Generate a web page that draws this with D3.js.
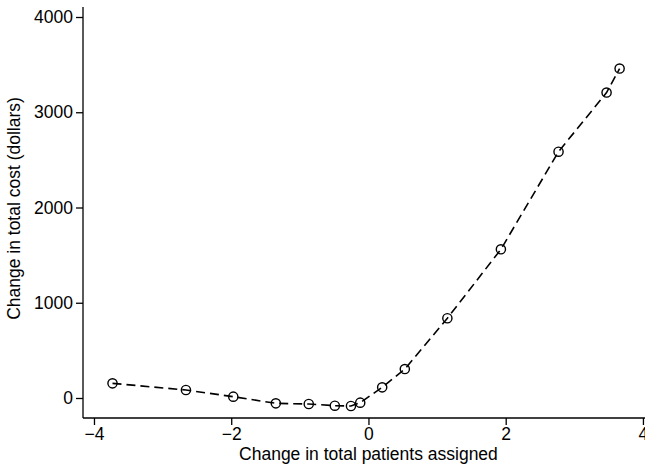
<!DOCTYPE html>
<html>
<head>
<meta charset="utf-8">
<script src="https://cdn.jsdelivr.net/npm/d3@7"></script>
<style>
  body { margin: 0; background: #fff; }
  svg { font-family: "Liberation Sans", Arial, sans-serif; }
</style>
</head>
<body>
<script>
// chart data
var patients = [-3.73, -2.66, -1.97, -1.35, -0.87, -0.49, -0.255, -0.12, 0.20, 0.53, 1.15, 1.93, 2.77, 3.47, 3.66];
var cost = [154, 84, 14, -56, -63, -81, -84, -49, 112, 304, 837, 1561, 2586, 3207, 3459];
var xTicks = [-4, -2, 0, 2, 4];
var yTicks = [0, 1000, 2000, 3000, 4000];
var xTitle = "Change in total patients assigned";
var yTitle = "Change in total cost (dollars)";

var W = 645, H = 465;
var margin = { top: 7, right: 0, bottom: 47, left: 83 };
var width = W - margin.left - margin.right;
var height = H - margin.top - margin.bottom;

var svg = d3.select("body").append("svg")
	.attr("width", W)
	.attr("height", H)
	.append("g")
		.attr("transform", "translate(" + margin.left + "," + margin.top + ")");

var x = d3.scaleLinear().domain([-4.16, 4.03]).range([0, width]);
var y = d3.scaleLinear().domain([-210, 4105]).range([height, 0]);

var xAxis = svg.append("g")
	.attr("transform", "translate(0," + height + ")")
	.call(d3.axisBottom(x).tickValues(xTicks).tickSize(7).tickPadding(3)
		.tickFormat(function(d) { return d < 0 ? "\u2212" + Math.abs(d) : d; }));
var yAxis = svg.append("g")
	.call(d3.axisLeft(y).tickValues(yTicks).tickSize(7).tickPadding(3)
		.tickFormat(d3.format("d")));

[xAxis, yAxis].forEach(function(a) {
	a.select(".domain").attr("stroke", "#000").attr("stroke-width", 1.3);
	a.selectAll(".tick line").attr("stroke", "#000").attr("stroke-width", 1.3);
	a.selectAll("text").attr("font-size", 17.5).attr("fill", "#000")
		.attr("font-family", "Liberation Sans, Arial, sans-serif");
});
// plain axis lines, no outer ticks
xAxis.select(".domain").attr("d", "M0,0H" + width);
yAxis.select(".domain").attr("d", "M0,0V" + height);

svg.append("text")
	.attr("x", x(0))
	.attr("y", height + 42)
	.attr("text-anchor", "middle")
	.attr("font-size", 17.5)
	.text(xTitle);

svg.append("text")
	.attr("transform", "translate(" + (-63) + "," + (y(2000) + 1) + ") rotate(-90)")
	.attr("text-anchor", "middle")
	.attr("font-size", 17.5)
	.text(yTitle);

var data = patients.map(function(d, i) { return { x: d, y: cost[i] }; });

var line = d3.line()
	.x(function(d) { return x(d.x); })
	.y(function(d) { return y(d.y); });

svg.append("path")
	.datum(data)
	.attr("d", line)
	.attr("fill", "none")
	.attr("stroke", "#000")
	.attr("stroke-width", 1.6)
	.attr("stroke-dasharray", "9,5");

svg.selectAll(".dot")
	.data(data)
	.enter()
	.append("circle")
		.attr("class", "dot")
		.attr("r", 4.6)
		.attr("cx", function(d) { return x(d.x); })
		.attr("cy", function(d) { return y(d.y); })
		.attr("fill", "none")
		.attr("stroke", "#000")
		.attr("stroke-width", 1.4);
</script>
</body>
</html>
